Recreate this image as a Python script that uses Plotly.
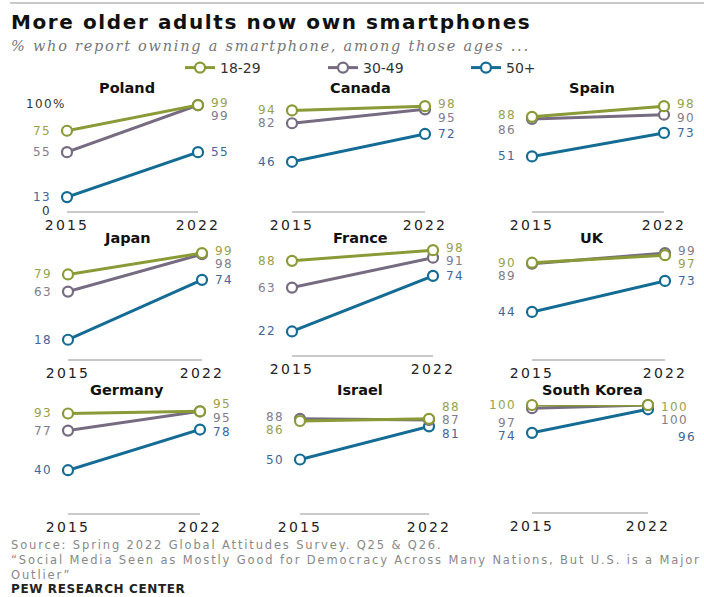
import plotly.graph_objects as go

# ---------------- data ----------------
countries = ["Poland", "Canada", "Spain", "Japan", "France", "UK",
             "Germany", "Israel", "South Korea"]
years = ["2015", "2022"]
series_names = ["18-29", "30-49", "50+"]
age_18_29_2015 = [75, 94, 88, 79, 88, 90, 93, 86, 100]
age_18_29_2022 = [99, 98, 98, 99, 98, 97, 95, 88, 100]
age_30_49_2015 = [55, 82, 86, 63, 63, 89, 77, 88, 97]
age_30_49_2022 = [99, 95, 90, 98, 91, 99, 95, 87, 100]
age_50_2015 = [13, 46, 51, 18, 22, 44, 40, 50, 74]
age_50_2022 = [55, 72, 73, 74, 74, 73, 78, 81, 96]
y_tick_vals = [0, 100]
y_tick_text = ["0", "100%"]

title = "More older adults now own smartphones"
subtitle = "% who report owning a smartphone, among those ages ..."
source_lines = ["Source: Spring 2022 Global Attitudes Survey. Q25 & Q26.",
                "“Social Media Seen as Mostly Good for Democracy Across Many Nations, But U.S. is a Major",
                "Outlier”"]
brand = "PEW RESEARCH CENTER"

# ---------------- styles / layout ----------------
W, H = 704, 597
def X(px): return px / W
def Y(py): return 1 - py / H
def spaced(t, ls): return '<span style="letter-spacing:%spx">%s</span>' % (ls, t)

line_colors = ["#8a9a36", "#766b80", "#146c95"]
text_colors = ["#98a24a", "#857b8c", "#42669a"]
FONT = "DejaVu Sans"
LBL = 12

# panel pixel geometry: (x of 2015, x of 2022, baseline y)
panel_px = [(67, 198, 211), (292, 425, 211), (532, 664, 211),
            (68, 202, 359), (292, 433, 355), (532, 665, 359),
            (68, 200, 513), (300, 429, 513), (532, 648, 512)]
SCALE = 107  # px for 100 points
col_centers = [127, 360, 592]
row_title_y = [88, 238, 390]

# label offsets (px, + = up) per panel per series [left, right]
y_off = {
    0: [[0, 2], [0, -11], [0, 0]],
    1: [[0, 2], [0, -9], [0, 0]],
    2: [[2, 2], [-11, -3], [0, 0]],
    3: [[0, 2], [0, -10], [0, 0]],
    4: [[0, 2], [0, -3], [0, 0]],
    5: [[0, -9], [-12, 2], [0, 0]],
    6: [[0, 7], [0, -7], [0, -2]],
    7: [[-9, 12], [2, 0], [0, -8]],
    8: [[0, -2], [-15, -15], [-3, -28]],
}
x_extra = {(8, 2, 1): 17}

fig = go.Figure()
layout_axes = {}
annotations = []

for i, c in enumerate(countries):
    n = "" if i == 0 else str(i + 1)
    x15, x22, yb = panel_px[i]
    layout_axes["xaxis" + n] = dict(
        domain=[X(x15), X(x22)], type="category", range=[0, 1],
        anchor="y" + n, showgrid=False, zeroline=False, automargin=False,
        showline=True, linecolor="#c9c9c9", linewidth=2,
        tickvals=years, ticktext=[spaced(y, 2.2) for y in years],
        ticks="", tickfont=dict(family=FONT, size=14, color="#222"),
        fixedrange=True)
    layout_axes["yaxis" + n] = dict(
        domain=[Y(yb), Y(yb - SCALE)], range=[0, 100], anchor="x" + n,
        showgrid=False, zeroline=False, showline=False, automargin=False,
        showticklabels=False, fixedrange=True)
    vals = [(age_18_29_2015[i], age_18_29_2022[i]),
            (age_30_49_2015[i], age_30_49_2022[i]),
            (age_50_2015[i], age_50_2022[i])]
    for s in [2, 1, 0]:
        fig.add_trace(go.Scatter(
            x=years, y=list(vals[s]), mode="lines+markers",
            name=series_names[s], legendgroup=series_names[s],
            legendrank=s + 1, showlegend=(i == 0), cliponaxis=False,
            line=dict(color=line_colors[s], width=3),
            marker=dict(size=10, color="white",
                        line=dict(color=line_colors[s], width=2.2)),
            xaxis="x" + n, yaxis="y" + n, hoverinfo="skip"))
        for k in range(2):
            annotations.append(dict(
                xref="x" + n, yref="y" + n, x=k, y=vals[s][k],
                text=spaced(str(vals[s][k]), 1.4), showarrow=False,
                xanchor="right" if k == 0 else "left", borderpad=0,
                xshift=(-15 if k == 0 else 12) + x_extra.get((i, s, k), 0),
                yshift=y_off[i][s][k],
                font=dict(family=FONT, size=LBL, color=text_colors[s])))
    annotations.append(dict(
        xref="paper", yref="paper", x=X(col_centers[i % 3]),
        y=Y(row_title_y[i // 3]), text="<b>" + c + "</b>", showarrow=False,
        xanchor="center", yanchor="middle", borderpad=0,
        font=dict(family=FONT, size=14.5, color="#111")))

# y-axis reference labels for first panel
for v, t in zip(y_tick_vals, y_tick_text):
    annotations.append(dict(
        xref="x", yref="y", x=0, y=v, text=spaced(t, 1.4), showarrow=False,
        xanchor="right", xshift=-15 if t == "0" else 0, borderpad=0,
        font=dict(family=FONT, size=LBL, color="#333")))

# headers
annotations.append(dict(xref="paper", yref="paper", x=X(9), y=Y(22),
                        text="<b>" + spaced(title, 1.6) + "</b>", showarrow=False,
                        xanchor="left", yanchor="middle",
                        font=dict(family=FONT, size=20, color="#111")))
annotations.append(dict(xref="paper", yref="paper", x=X(9), y=Y(46),
                        text="<i>" + spaced(subtitle, 1.75) + "</i>", showarrow=False,
                        xanchor="left", yanchor="middle",
                        font=dict(family="DejaVu Serif", size=14.5, color="#777")))
annotations.append(dict(xref="paper", yref="paper", x=X(9), y=Y(560),
                        text="<br>".join(spaced(t, 1.85) for t in source_lines),
                        showarrow=False, xanchor="left", yanchor="middle",
                        align="left",
                        font=dict(family=FONT, size=11.5, color="#888")))
annotations.append(dict(xref="paper", yref="paper", x=X(9), y=Y(589),
                        text="<b>" + spaced(brand, 0.6) + "</b>", showarrow=False,
                        xanchor="left", yanchor="middle",
                        font=dict(family=FONT, size=12, color="#222")))

fig.update_layout(
    width=W, height=H, margin=dict(l=0, r=0, t=0, b=0),
    paper_bgcolor="white", plot_bgcolor="white",
    showlegend=True,
    legend=dict(orientation="h", x=X(180), y=Y(68), xanchor="left",
                yanchor="middle", traceorder="normal",
                font=dict(family=FONT, size=14, color="#333"),
                entrywidth=98, entrywidthmode="pixels"),
    annotations=annotations,
    shapes=[dict(type="line", xref="paper", yref="paper",
                 x0=X(10), x1=1, y0=Y(3), y1=Y(3),
                 line=dict(color="#c8c8c8", width=2))],
    **layout_axes)

fig.write_html("out.html", config={"displayModeBar": False},
               post_script="document.body.style.margin='0';"
                           "document.body.style.overflow='hidden';")
